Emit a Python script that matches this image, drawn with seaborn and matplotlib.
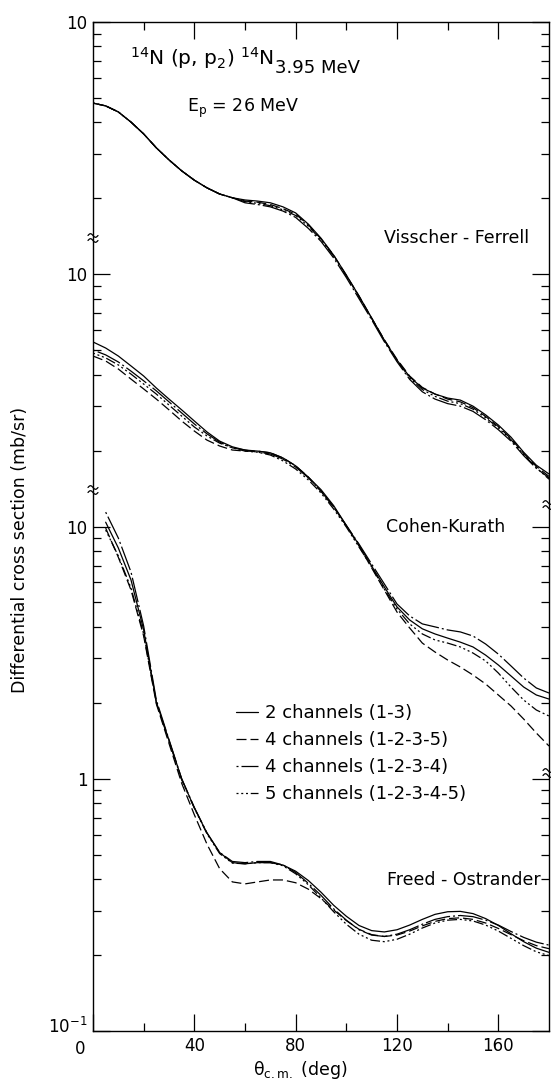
import numpy as np
import pandas as pd
import matplotlib
matplotlib.use("Agg")
import matplotlib.pyplot as plt
import seaborn as sns
from matplotlib.ticker import LogLocator, NullFormatter, FixedLocator
from matplotlib.transforms import ScaledTranslation
from matplotlib.lines import Line2D

# ---------------- data ----------------
theta_full = list(range(0, 181, 5))      # 0..180
theta_fo = list(range(5, 181, 5))        # 5..180

channels = ["2 channels (1-3)", "4 channels (1-2-3-5)",
            "4 channels (1-2-3-4)", "5 channels (1-2-3-4-5)"]

# Visscher-Ferrell (mb/sr)
vf_2ch = [4.77, 4.65, 4.40, 4.01, 3.60, 3.17, 2.84, 2.57, 2.36, 2.20, 2.08, 2.01,
          1.97, 1.95, 1.92, 1.85, 1.75, 1.58, 1.39, 1.19, 0.993, 0.82, 0.671, 0.548,
          0.457, 0.392, 0.354, 0.335, 0.323, 0.317, 0.300, 0.277, 0.2525, 0.226, 0.197,
          0.175, 0.1615]
vf_4ch_1235 = [4.77, 4.65, 4.40, 4.01, 3.60, 3.17, 2.84, 2.57, 2.36, 2.20, 2.08, 2.01,
               1.95, 1.93, 1.89, 1.82, 1.73, 1.57, 1.38, 1.19, 0.99, 0.82, 0.67, 0.55,
               0.46, 0.395, 0.356, 0.335, 0.320, 0.312, 0.296, 0.273, 0.249, 0.223, 0.195,
               0.173, 0.158]
vf_4ch_1234 = [4.77, 4.65, 4.40, 4.01, 3.60, 3.17, 2.84, 2.57, 2.36, 2.20, 2.08, 2.01,
               1.92, 1.89, 1.85, 1.78, 1.68, 1.52, 1.35, 1.16, 0.97, 0.80, 0.66, 0.54,
               0.45, 0.383, 0.342, 0.320, 0.307, 0.300, 0.286, 0.265, 0.242, 0.218, 0.191,
               0.170, 0.156]
vf_5ch = [4.77, 4.65, 4.40, 4.01, 3.60, 3.17, 2.84, 2.57, 2.36, 2.20, 2.08, 2.01,
          1.94, 1.91, 1.87, 1.80, 1.71, 1.55, 1.37, 1.18, 0.985, 0.815, 0.668, 0.547,
          0.455, 0.388, 0.349, 0.328, 0.314, 0.307, 0.292, 0.270, 0.246, 0.221, 0.193,
          0.171, 0.154]

# Cohen-Kurath (mb/sr)
ck_2ch = [5.39, 5.10, 4.74, 4.33, 3.95, 3.54, 3.20, 2.90, 2.62, 2.37, 2.18, 2.07,
          2.01, 1.99, 1.96, 1.87, 1.74, 1.57, 1.40, 1.21, 1.01, 0.845, 0.697, 0.576,
          0.480, 0.426, 0.393, 0.375, 0.361, 0.348, 0.333, 0.309, 0.2825, 0.2555, 0.231,
          0.2148, 0.207]
ck_4ch_1235 = [4.74, 4.53, 4.21, 3.84, 3.51, 3.20, 2.90, 2.62, 2.39, 2.20, 2.085, 2.01,
               1.99, 1.99, 1.96, 1.87, 1.74, 1.57, 1.38, 1.195, 1.005, 0.837, 0.685, 0.560,
               0.458, 0.396, 0.345, 0.318, 0.2956, 0.2773, 0.2578, 0.2375, 0.2148, 0.1943,
               0.1725, 0.1518, 0.1348]
ck_4ch_1234 = [5.01, 4.79, 4.49, 4.13, 3.78, 3.45, 3.12, 2.82, 2.55, 2.33, 2.16, 2.05,
               2.01, 1.97, 1.94, 1.85, 1.72, 1.56, 1.38, 1.195, 1.01, 0.852, 0.710, 0.592,
               0.493, 0.442, 0.411, 0.400, 0.389, 0.382, 0.368, 0.342, 0.312, 0.280,
               0.2508, 0.229, 0.2187]
ck_5ch = [4.87, 4.66, 4.37, 4.02, 3.67, 3.35, 3.03, 2.74, 2.48, 2.285, 2.14, 2.05,
          1.99, 1.97, 1.92, 1.82, 1.69, 1.53, 1.358, 1.173, 0.995, 0.829, 0.691, 0.565,
          0.471, 0.411, 0.375, 0.355, 0.345, 0.333, 0.315, 0.293, 0.2625, 0.231, 0.2052,
          0.1873, 0.1773]

# Freed-Ostrander (mb/sr)
fo_2ch = [10.4, 8.22, 6.14, 3.89, 2.015, 1.42, 1.00, 0.766, 0.609, 0.51,
          0.465, 0.46, 0.465, 0.465, 0.455, 0.43, 0.395, 0.355, 0.315, 0.285,
          0.262, 0.25, 0.247, 0.252, 0.263, 0.277, 0.29, 0.297, 0.298, 0.292,
          0.279, 0.262, 0.243, 0.226, 0.213, 0.205]
fo_4ch_1235 = [9.86, 7.55, 5.60, 3.68, 1.98, 1.38, 0.96, 0.72, 0.55, 0.44,
               0.39, 0.383, 0.39, 0.397, 0.397, 0.387, 0.365, 0.335, 0.302, 0.274,
               0.253, 0.241, 0.237, 0.24, 0.249, 0.261, 0.272, 0.279, 0.281, 0.277,
               0.268, 0.255, 0.241, 0.228, 0.218, 0.212]
fo_4ch_1234 = [11.4, 9.0, 6.60, 4.03, 2.05, 1.43, 1.0, 0.77, 0.61, 0.51,
               0.47, 0.465, 0.47, 0.47, 0.455, 0.425, 0.385, 0.345, 0.305, 0.275,
               0.252, 0.24, 0.237, 0.242, 0.252, 0.265, 0.277, 0.284, 0.287, 0.284,
               0.275, 0.263, 0.248, 0.235, 0.225, 0.219]
fo_5ch = [9.68, 7.64, 5.70, 3.75, 2.00, 1.41, 0.99, 0.765, 0.605, 0.505,
          0.463, 0.46, 0.465, 0.465, 0.452, 0.42, 0.38, 0.337, 0.297, 0.265,
          0.242, 0.229, 0.226, 0.231, 0.242, 0.256, 0.268, 0.275, 0.277, 0.273,
          0.263, 0.249, 0.233, 0.218, 0.206, 0.199]

models = ["Visscher - Ferrell", "Cohen-Kurath", "Freed - Ostrander"]
# each panel of the stacked plot is shifted by one decade
panel_scale = {"Visscher - Ferrell": 100, "Cohen-Kurath": 10, "Freed - Ostrander": 1}

series = {
    "Visscher - Ferrell": (theta_full, [vf_2ch, vf_4ch_1235, vf_4ch_1234, vf_5ch]),
    "Cohen-Kurath": (theta_full, [ck_2ch, ck_4ch_1235, ck_4ch_1234, ck_5ch]),
    "Freed - Ostrander": (theta_fo, [fo_2ch, fo_4ch_1235, fo_4ch_1234, fo_5ch]),
}

rows = []
for m in models:
    th, vals = series[m]
    for ch, v in zip(channels, vals):
        for t, y in zip(th, v):
            rows.append({"model": m, "channel": ch, "theta": t,
                         "sigma": y, "plotted": y * panel_scale[m]})
df = pd.DataFrame(rows)

# ---------------- styling ----------------
sns.set_style("ticks")
plt.rcParams["font.family"] = ["DejaVu Sans"]
plt.rcParams["mathtext.fontset"] = "dejavusans"
for k in ["text.color", "axes.labelcolor", "xtick.color", "ytick.color", "axes.edgecolor"]:
    plt.rcParams[k] = "black"

W, H = 551, 1085
fig = plt.figure(figsize=(W / 100, H / 100), dpi=100)
L, R, T, B = 93, 549, 22, 1031
ax = fig.add_axes([L / W, 1 - B / H, (R - L) / W, (B - T) / H])

lw = 0.9
line_styles = {
    "2 channels (1-3)": "-",
    "4 channels (1-2-3-5)": (0, (8, 3.2)),
    "4 channels (1-2-3-4)": (0, (1.6, 2.4, 20, 2.4)),
    "5 channels (1-2-3-4-5)": (0, (1.6, 2.2, 1.6, 2.2, 1.6, 2.2, 8, 2.2)),
}

handles = {}
for m in models:
    for ch in channels:
        sub = df[(df.model == m) & (df.channel == ch)]
        sns.lineplot(data=sub, x="theta", y="plotted", ax=ax, color="black",
                     linewidth=lw, linestyle=line_styles[ch], estimator=None,
                     sort=True, legend=False)
        if m == "Freed - Ostrander":
            handles[ch] = ax.lines[-1]

ax.set_yscale("log")
ax.set_xlim(0, 180)
ax.set_ylim(0.1, 1000)
ax.set_xlabel("")
ax.set_ylabel("")

ax.yaxis.set_major_locator(FixedLocator([0.1, 1, 10, 100, 1000]))
ax.set_yticklabels([r"$10^{-1}$", "1", "10", "10", "10"])
ax.yaxis.set_minor_locator(LogLocator(base=10, subs=np.arange(2, 10), numticks=20))
ax.yaxis.set_minor_formatter(NullFormatter())

ax.set_xticks([0, 40, 80, 120, 160])
ax.set_xticklabels(["0", "40", "80", "120", "160"])
ax.set_xticks([20, 60, 100, 140], minor=True)

ax.tick_params(which="both", direction="in", top=True, right=True,
               labelsize=12, width=0.9, colors="black")
ax.tick_params(which="major", length=12, pad=4)
ax.tick_params(which="minor", length=6)
for s in ax.spines.values():
    s.set_linewidth(1.0)
    s.set_color("black")

# the "0" label sits left of and a bit below its tick; "10^-1" sits a bit higher
xt0 = ax.xaxis.get_major_ticks()[0].label1
xt0.set_transform(xt0.get_transform() + ScaledTranslation(-13 / 100, -3 / 100, fig.dpi_scale_trans))
yt0 = ax.yaxis.get_major_ticks()[0].label1
yt0.set_transform(yt0.get_transform() + ScaledTranslation(0, 6 / 100, fig.dpi_scale_trans))

# axis break marks (two small wiggles across the spine)
def break_mark(xp, yp):
    xs = np.linspace(xp - 5, xp + 5, 20)
    for dy in (-2.5, 2.5):
        ys = yp + dy + 1.8 * np.sin((xs - xp) / 5 * np.pi)
        fig.add_artist(Line2D(xs / W, 1 - ys / H, transform=fig.transFigure,
                              color="black", lw=0.9))

for xp, yp in [(L, 238), (L, 490), (R - 1, 505), (R - 1, 773)]:
    break_mark(xp, yp)

# labels and annotations
def ft(x, y, s, **kw):
    return fig.text(x / W, 1 - y / H, s, color="black", **kw)

def fy(y):
    return (B - y) / (B - T)

ft(20, 550, "Differential cross section (mb/sr)", rotation=90,
   ha="center", va="center", fontsize=12.5)
ft(300, 1070, r"θ$_{\mathrm{c.m.}}$ (deg)", ha="center", va="center", fontsize=12.5)
title = ft(130, 58, r"$^{14}$N (p, p$_2$) $^{14}$N",
           ha="left", va="center", fontsize=14.5)
renderer = fig.canvas.get_renderer()
x_end = title.get_window_extent(renderer).x1
ft(x_end + 1, 68, "3.95 MeV", ha="left", va="center", fontsize=13)
ft(187, 108, r"E$_\mathrm{p}$ = 26 MeV", ha="left", va="center", fontsize=12.5)
ft(384, 238, "Visscher - Ferrell", ha="left", va="center", fontsize=12.5)
ft(386, 527, "Cohen-Kurath", ha="left", va="center", fontsize=12.5)
ft(541, 880, "Freed - Ostrander", ha="right", va="center", fontsize=12.5)

leg = ax.legend([handles[c] for c in channels], channels,
                loc="upper left", bbox_to_anchor=((236 - L) / (R - L), fy(704)),
                frameon=False, fontsize=13, handlelength=1.2,
                handletextpad=0.4, labelspacing=0.5, borderaxespad=0, borderpad=0)
for t in leg.get_texts():
    t.set_color("black")

fig.savefig("out.png", dpi=100)
